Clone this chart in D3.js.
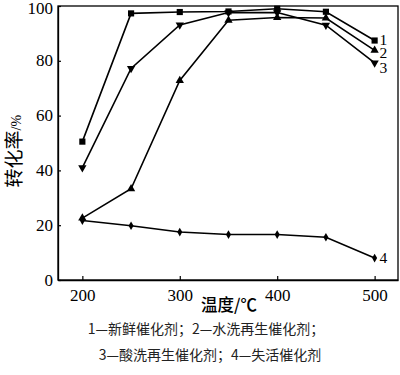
<!DOCTYPE html>
<html>
<head>
<meta charset="utf-8">
<title>转化率</title>
<script src="https://cdn.jsdelivr.net/npm/d3@7/dist/d3.min.js"></script>
<style>
  body { margin: 0; background: #fff; }
  svg { display: block; }
</style>
</head>
<body>
<svg id="chart"></svg>
<script>
// data
const temps = [200, 250, 300, 350, 400, 450, 500];
const fresh    = [50.5, 97.3, 97.8, 98.0, 99.0, 97.9, 87.4];   // 1
const water    = [22.6, 33.3, 72.8, 94.8, 95.8, 95.6, 83.8];   // 2
const acid     = [41.0, 77.2, 93.1, 97.6, 97.6, 93.0, 79.2];   // 3
const inactive = [21.7, 19.8, 17.5, 16.6, 16.6, 15.6, 8.0];    // 4
const seriesNames = ["1", "2", "3", "4"];
const xTicks = [200, 300, 400, 500];
const yTicks = [0, 20, 40, 60, 80, 100];

const W = 400, H = 375;
const margin = { top: 6, right: 2, bottom: 95, left: 58 };

const svg = d3.select("#chart").attr("width", W).attr("height", H);

const x = d3.scaleLinear().domain([175, 524]).range([margin.left, W - margin.right]);
const y = d3.scaleLinear().domain([0, 100]).range([H - margin.bottom, margin.top]);

const numFont = "'Liberation Serif', 'DejaVu Serif', serif";
const cjkFont = "'Noto Sans CJK SC', sans-serif";

// frame
svg.append("rect")
    .attr("x", x.range()[0]).attr("y", y.range()[1])
    .attr("width", x.range()[1] - x.range()[0])
    .attr("height", y.range()[0] - y.range()[1])
    .attr("fill", "none").attr("stroke", "#000").attr("stroke-width", 1.3);

// axes, ticks inward
const gx = svg.append("g").attr("transform", `translate(0,${y(0)})`)
    .call(d3.axisBottom(x).tickValues(xTicks).tickSizeInner(-4).tickSizeOuter(0).tickPadding(9));
const gy = svg.append("g").attr("transform", `translate(${x.range()[0]},0)`)
    .call(d3.axisLeft(y).tickValues(yTicks).tickSizeInner(-3).tickSizeOuter(0).tickPadding(5));
[gx, gy].forEach(g => {
    g.select(".domain").attr("stroke", "#000").attr("stroke-width", 1.3);
    g.selectAll(".tick line").attr("stroke", "#000").attr("stroke-width", 1.2);
    g.selectAll("text").attr("font-family", numFont).attr("font-size", 17).attr("fill", "#000");
});
gy.selectAll(".tick text").attr("dy", d => d === 100 ? "0.45em" : "0.3em");

const allSeries = [fresh, water, acid, inactive];
const shapes = [d3.symbolSquare, d3.symbolTriangle, d3.symbolTriangle, d3.symbolDiamond];
const sizes = [38, 30, 30, 22];
const rot = [0, 0, 180, 0];

const line = d3.line().x((d, i) => x(temps[i])).y(d => y(d));

allSeries.forEach((vals, k) => {
    svg.append("path").datum(vals)
        .attr("d", line)
        .attr("fill", "none").attr("stroke", "#000").attr("stroke-width", 1.6);
    svg.append("g").selectAll("path").data(vals).join("path")
        .attr("d", d3.symbol().type(shapes[k]).size(sizes[k]))
        .attr("transform", (d, i) => `translate(${x(temps[i])},${y(d)}) rotate(${rot[k]})`)
        .attr("fill", "#000");
});

// series labels at right end
const labelOffsets = [-1, 3, 5, 0];
allSeries.forEach((vals, k) => {
    const last = vals[vals.length - 1];
    svg.append("text")
        .attr("x", x(temps[temps.length - 1]) + 5)
        .attr("y", y(last) + 5 + labelOffsets[k])
        .attr("font-family", numFont).attr("font-size", 15.5)
        .text(seriesNames[k]);
});

// axis titles
const yTitle = svg.append("text")
    .attr("transform", `translate(21,${y(47)}) rotate(-90)`)
    .attr("text-anchor", "middle")
    .attr("font-family", cjkFont).attr("font-size", 19);
yTitle.append("tspan").text("转化率");
yTitle.append("tspan").attr("font-family", numFont).attr("font-size", 14).text("/%");

svg.append("text")
    .attr("x", 229).attr("y", 311)
    .attr("text-anchor", "middle")
    .attr("font-family", cjkFont).attr("font-size", 16.5).attr("font-weight", 500)
    .text("温度/℃");

// caption
svg.append("text")
    .attr("x", 206).attr("y", 334)
    .attr("text-anchor", "middle")
    .attr("font-family", cjkFont).attr("font-size", 14).attr("fill", "#222")
    .text("1—新鲜催化剂；2—水洗再生催化剂；");
svg.append("text")
    .attr("x", 210).attr("y", 360)
    .attr("text-anchor", "middle")
    .attr("font-family", cjkFont).attr("font-size", 14).attr("fill", "#222")
    .text("3—酸洗再生催化剂；4—失活催化剂");
</script>
</body>
</html>
